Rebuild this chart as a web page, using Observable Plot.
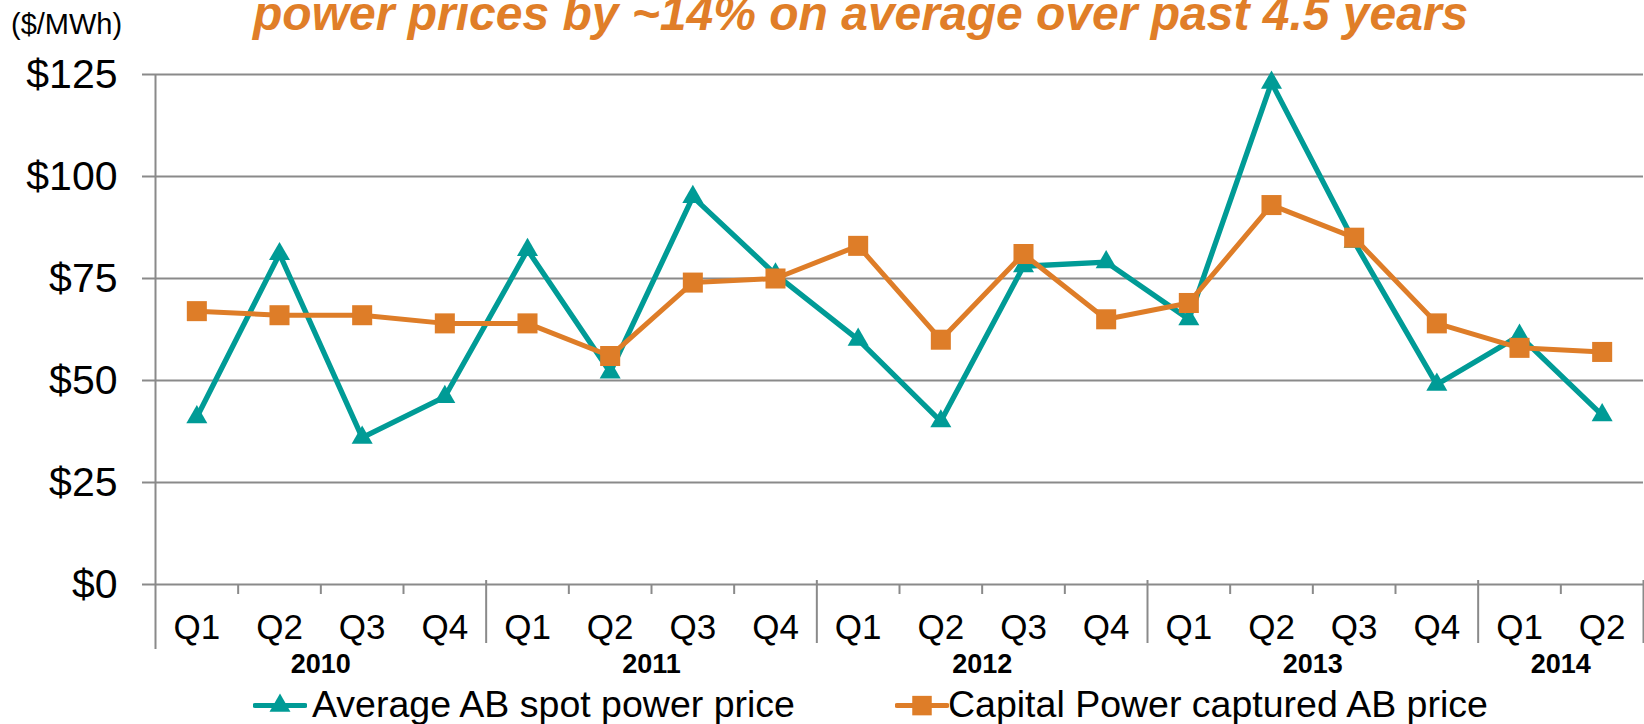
<!DOCTYPE html>
<html>
<head>
<meta charset="utf-8">
<script src="https://cdn.jsdelivr.net/npm/d3@7"></script>
<script src="https://cdn.jsdelivr.net/npm/@observablehq/plot@0.6"></script>
<style>
  html, body { margin: 0; padding: 0; background: #fff; }
  #wrap { position: relative; width: 1644px; height: 724px; overflow: hidden;
          font-family: "Liberation Sans", Arial, sans-serif; color: #000; }
  #wrap svg.plot { position: absolute; left: 0; top: 0; }
  .title { position: absolute; left: 253px; top: -10px; font-size: 48px; line-height: 48px;
           font-weight: bold; font-style: italic; color: #E07E28; white-space: nowrap; }
  .unit { position: absolute; left: 11px; top: 10px; font-size: 29px; line-height: 29px; white-space: nowrap; }
  .legend-item { position: absolute; top: 686px; height: 38px; white-space: nowrap; }
  .legend-item svg { position: absolute; top: 0; }
  .legend-item span { position: absolute; top: 0; font-size: 37.5px; line-height: 37.5px; }
</style>
</head>
<body>
<div id="wrap"></div>
<script>
// ---- data ----
const quarters = ["Q1","Q2","Q3","Q4","Q1","Q2","Q3","Q4","Q1","Q2","Q3","Q4","Q1","Q2","Q3","Q4","Q1","Q2"];
const years    = ["2010","2010","2010","2010","2011","2011","2011","2011","2012","2012","2012","2012","2013","2013","2013","2013","2014","2014"];
const spotPrice     = [41, 81, 36, 46, 82, 52, 95, 76, 60, 40, 78, 79, 65, 123, 84, 49, 61, 41.5];
const capturedPrice = [67, 66, 66, 64, 64, 56, 74, 75, 83, 60, 81, 65, 69, 93, 85, 64, 58, 57];
const yTicks = [0, 25, 50, 75, 100, 125];
const seriesNames = ["Average AB spot power price", "Capital Power captured AB price"];
const seriesColors = ["#009B96", "#DE7D28"];
const titleText = "power prices by ~14% on average over past 4.5 years";
const unitText = "($/MWh)";

// ---- derived tables ----
const spotRows = spotPrice.map((v, i) => ({i, v}));
const capRows = capturedPrice.map((v, i) => ({i, v}));
const yearGroups = d3.groups(quarters.map((q, i) => ({i, year: years[i]})), d => d.year)
  .map(([year, arr]) => ({year, first: arr[0].i, last: arr[arr.length - 1].i, center: (arr[0].i + arr[arr.length - 1].i) / 2}));
const yearEnds = yearGroups.map(g => g.last + 0.5);
const minorTicks = d3.range(quarters.length - 1).filter(i => years[i] === years[i + 1]).map(i => i + 0.5);

const gray = "#8a8a8a";

const chart = Plot.plot({
  width: 1644,
  height: 724,
  marginLeft: 155,
  marginRight: 1,
  marginTop: 74,
  marginBottom: 140,
  style: {fontFamily: "'Liberation Sans', Arial, sans-serif", color: "#000", background: "transparent", overflow: "visible"},
  x: {domain: [-0.5, quarters.length - 0.5], label: null},
  y: {domain: [0, 125], label: null},
  marks: [
    Plot.ruleY(yTicks, {stroke: gray, strokeWidth: 2, insetLeft: -13}),
    Plot.axisY({ticks: yTicks, tickFormat: d => "$" + d, tickSize: 0, tickPadding: 38, fontSize: 41, fill: "#000", label: null}),
    Plot.ruleX([-0.5], {y1: 125, y2: 0, insetBottom: -65, stroke: gray, strokeWidth: 2}),
    Plot.ruleX(yearEnds, {y1: 0, y2: 0, insetTop: -4, insetBottom: -59, stroke: gray, strokeWidth: 2}),
    Plot.ruleX(minorTicks, {y1: 0, y2: 0, insetBottom: -10, stroke: gray, strokeWidth: 2}),
    Plot.axisX({ticks: d3.range(quarters.length), tickFormat: i => quarters[i], tickSize: 0, tickPadding: 30, fontSize: 35, fill: "#000", label: null}),
    Plot.text(yearGroups, {x: "center", text: "year", frameAnchor: "bottom", lineAnchor: "middle", dy: 80, fontSize: 27, fontWeight: "bold", fill: "#000"}),
    Plot.line(spotRows, {x: "i", y: "v", stroke: seriesColors[0], strokeWidth: 5.3, strokeLinejoin: "miter"}),
    Plot.dot(spotRows, {x: "i", y: "v", symbol: "triangle", r: 7.8, fill: seriesColors[0]}),
    Plot.line(capRows, {x: "i", y: "v", stroke: seriesColors[1], strokeWidth: 5, strokeLinejoin: "miter"}),
    Plot.dot(capRows, {x: "i", y: "v", symbol: "square", r: 11.3, fill: seriesColors[1]})
  ]
});
chart.classList.add("plot");

const wrap = document.getElementById("wrap");
wrap.appendChild(chart);

const title = document.createElement("div");
title.className = "title";
title.textContent = titleText;
wrap.appendChild(title);

const unit = document.createElement("div");
unit.className = "unit";
unit.textContent = unitText;
wrap.appendChild(unit);

// legend
const legendPos = [{swatch: 253, text: 312}, {swatch: 895, text: 948}];
const symbols = ["triangle", "square"];
seriesNames.forEach((name, k) => {
  const item = document.createElement("div");
  item.className = "legend-item";
  item.style.left = legendPos[k].swatch + "px";
  const w = 54;
  const sym = symbols[k] === "triangle"
    ? d3.symbol(d3.symbolTriangle, 190)()
    : d3.symbol(d3.symbolSquare, 380)();
  item.innerHTML =
    `<svg width="${w}" height="38" style="left:0"><line x1="2" x2="${w - 2}" y1="19.6" y2="19.6" stroke="${seriesColors[k]}" stroke-width="5" stroke-linecap="round"/>` +
    `<path transform="translate(${w / 2},19.6)" d="${sym}" fill="${seriesColors[k]}"/></svg>` +
    `<span style="left:${legendPos[k].text - legendPos[k].swatch}px">${name}</span>`;
  wrap.appendChild(item);
});
</script>
</body>
</html>
